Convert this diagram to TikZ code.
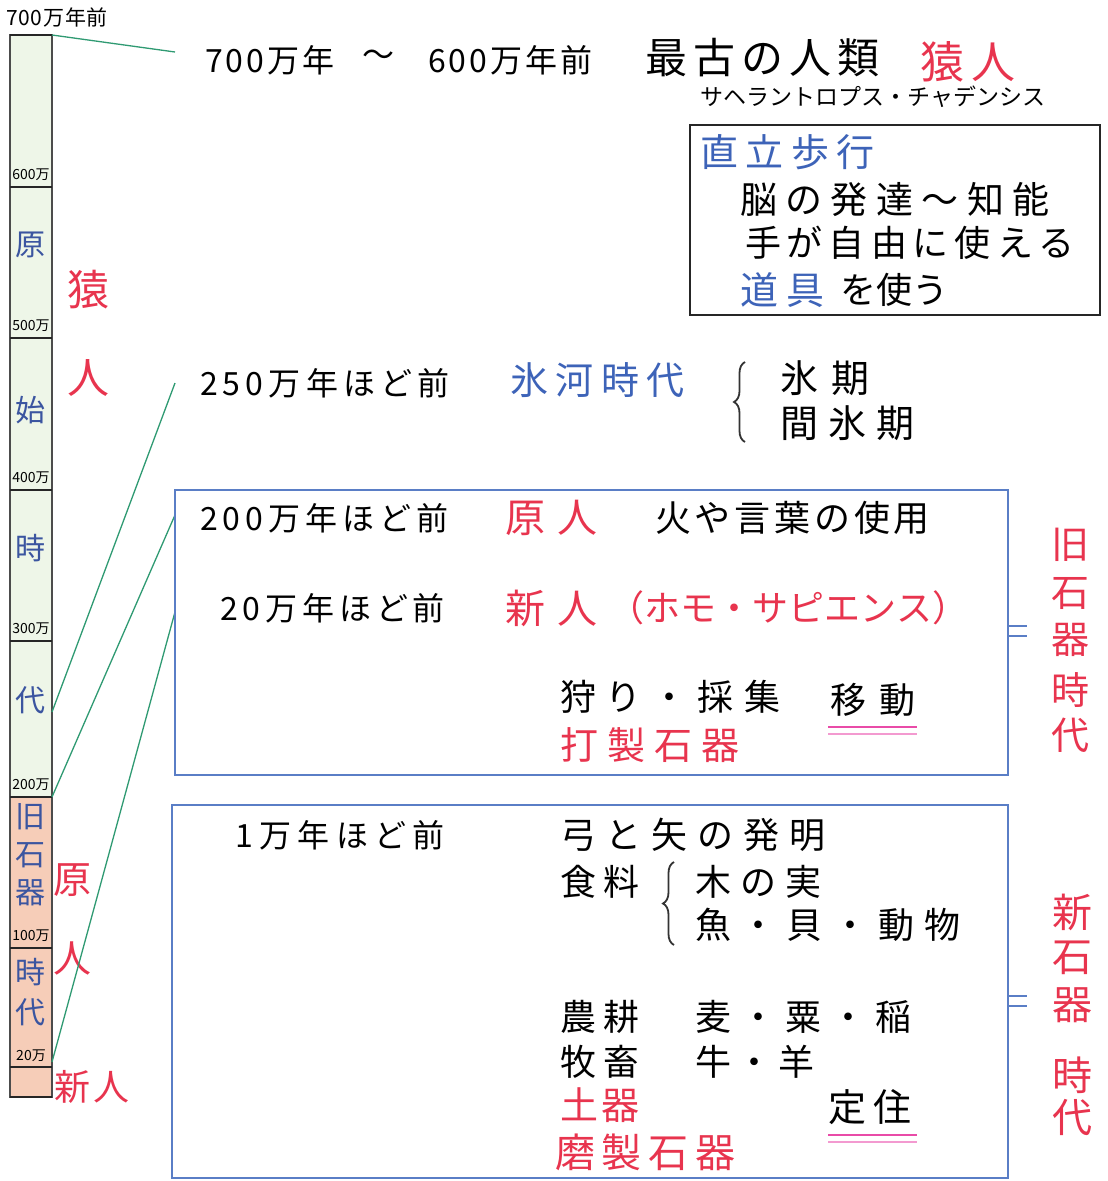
\documentclass[tikz,border=0pt]{standalone}
\usepackage{fontspec}
\setmainfont{Noto Sans CJK JP}
\usetikzlibrary{decorations.pathreplacing}
\definecolor{nred}{HTML}{E8344E}
\definecolor{nblue}{HTML}{3D63B8}
\definecolor{navy}{HTML}{3B55A0}
\definecolor{boxblue}{HTML}{5A7EC6}
\definecolor{ngreen}{HTML}{2F9A72}
\definecolor{pinkA}{HTML}{E94BA8}
\definecolor{pinkB}{HTML}{F39AD0}
\definecolor{pgreen}{HTML}{EEF6E8}
\definecolor{peach}{HTML}{F6CDB8}
\newcommand\fsz[1]{\fontsize{#1}{#1}\selectfont}
\makeatletter
\newcommand\spread[2]{\makebox[#1][s]{\spreadloop#2\relax}}
\def\spreadloop#1{\ifx#1\relax\else#1\expandafter\spreadnext\fi}
\def\spreadnext#1{\ifx#1\relax\else\hfill#1\expandafter\spreadnext\fi}
\makeatother
% \tx{style}{name}{x1}{x2}{y}{text}
\newcommand\tx[6]{\node[txt,#1] (#2) at (#3,#5) {\spread{\dimexpr#4pt-#3pt\relax}{#6}};}
\begin{document}
\begin{tikzpicture}[x=1pt,y=-1pt,
  txt/.style={anchor=west,inner sep=0pt,outer sep=0pt},
  tiny/.style={inner sep=0pt,font=\fsz{14}},
  barch/.style={inner sep=0pt,text=navy,font=\fsz{30}},
  vred/.style={inner sep=0pt,text=nred,font=\fsz{38}},
  conn/.style={draw=ngreen,line width=1.3pt},
  bluebox/.style={draw=boxblue,line width=1.8pt},
  blackbox/.style={draw=black!85,line width=2pt},
  tick/.style={draw=black!85,line width=1.4pt},
  brace/.style={draw=black!80,line width=1.8pt,decorate,decoration={brace,amplitude=11pt}},
  uline/.style={line width=2.4pt},
  eqline/.style={draw=boxblue,line width=2pt}
]
\useasboundingbox (0,0) rectangle (1108,1181);
\fill[white] (0,0) rectangle (1108,1181);

% ---------- timeline bar ----------
\fill[pgreen] (10,35) rectangle (52,797);
\fill[peach] (10,797) rectangle (52,1097);
\draw[draw=black!70,line width=1.2pt] (10,35) rectangle (52,1097);
\foreach \yy in {35,187,338,490,641,797,948,1067,1097}{\draw[tick] (10,\yy) -- (52,\yy);}
\tx{font=\fsz{21}}{t700}{6}{108}{17}{700万年前}
\node[tiny] (t600) at (31,175) {600万};
\node[tiny] (t500) at (31,326) {500万};
\node[tiny] (t400) at (31,478) {400万};
\node[tiny] (t300) at (31,629) {300万};
\node[tiny] (t200) at (31,785) {200万};
\node[tiny] (t100) at (31,936) {100万};
\node[tiny] (t20) at (31,1056) {20万};
\node[barch] (b1) at (31,245) {原};
\node[barch] (b2) at (31,410) {始};
\node[barch] (b3) at (31,548) {時};
\node[barch] (b4) at (31,700) {代};
\node[barch] (b5) at (31,817) {旧};
\node[barch] (b6) at (31,855) {石};
\node[barch] (b7) at (31,893) {器};
\node[barch] (b8) at (31,972) {時};
\node[barch] (b9) at (31,1012) {代};
\node[vred,font=\fsz{42}] (r1) at (88,290) {猿};
\node[vred,font=\fsz{42}] (r2) at (88,378) {人};
\node[vred] (r3) at (72,880) {原};
\node[vred] (r4) at (72,958) {人};
\tx{text=nred,font=\fsz{36}}{r5}{54}{130}{1087}{新人}

% ---------- connector anchors ----------
\coordinate (c1a) at (52,35);   \coordinate (c1b) at (175,52);
\coordinate (c2a) at (52,712);  \coordinate (c2b) at (175,383);
\coordinate (c3a) at (52,797);  \coordinate (c3b) at (175,515);
\coordinate (c4a) at (52,1062); \coordinate (c4b) at (175,612);
\draw[conn] (c1a) -- (c1b);
\draw[conn] (c2a) -- (c2b);
\draw[conn] (c3a) -- (c3b);
\draw[conn] (c4a) -- (c4b);

% ---------- top ----------
\tx{font=\fsz{32}}{a1}{205}{335}{60}{700万年}
\node[inner sep=0pt,font=\fsz{32}] (a2) at (378,58) {～};
\tx{font=\fsz{32}}{a3}{428}{592}{60}{600万年前}
\tx{font=\fsz{42}}{a4}{645}{880}{58}{最古の人類}
\tx{text=nred,font=\fsz{44}}{a5}{920}{1015}{62}{猿人}
\tx{font=\fsz{23}}{a6}{700}{1045}{97}{サヘラントロプス・チャデンシス}

% ---------- box 1 ----------
\draw[blackbox] (690,125) rectangle (1100,315);
\tx{text=nblue,font=\fsz{38}}{k1}{700}{875}{152}{直立歩行}
\tx{font=\fsz{37}}{k2}{740}{1050}{200}{脳の発達～知能}
\tx{font=\fsz{36}}{k3}{745}{1075}{243}{手が自由に使える}
\tx{text=nblue,font=\fsz{38}}{k4}{740}{825}{290}{道具}
\tx{font=\fsz{36}}{k5}{840}{945}{290}{を使う}

% ---------- ice age ----------
\tx{font=\fsz{32}}{g1}{200}{450}{383}{250万年ほど前}
\tx{text=nblue,font=\fsz{38}}{g2}{510}{685}{380}{氷河時代}
\draw[brace] (745,442) -- (745,362);
\tx{font=\fsz{38}}{g3}{780}{870}{378}{氷期}
\tx{font=\fsz{38}}{g4}{780}{915}{423}{間氷期}

% ---------- box 2 ----------
\draw[bluebox] (175,490) rectangle (1008,775);
\tx{font=\fsz{32}}{p1}{200}{448}{518}{200万年ほど前}
\tx{text=nred,font=\fsz{40}}{p2}{505}{597}{518}{原人}
\tx{font=\fsz{36}}{p3}{655}{930}{518}{火や言葉の使用}
\tx{font=\fsz{32}}{p4}{220}{445}{608}{20万年ほど前}
\tx{text=nred,font=\fsz{40}}{p5}{505}{597}{608}{新人}
\tx{text=nred,font=\fsz{36}}{p6}{608}{932}{608}{（ホモ・サピエンス）}
\tx{font=\fsz{36}}{p7}{560}{780}{697}{狩り・採集}
\tx{font=\fsz{36}}{p8}{830}{915}{700}{移動}
\draw[uline,draw=pinkA] (828,727) -- (917,727);
\draw[uline,draw=pinkB] (828,734) -- (917,734);
\tx{text=nred,font=\fsz{38}}{p9}{560}{740}{745}{打製石器}
\draw[eqline] (1008,626) -- (1027,626);
\draw[eqline] (1008,636) -- (1027,636);
\node[vred] (v1) at (1070,545) {旧};
\node[vred] (v2) at (1070,593) {石};
\node[vred] (v3) at (1070,640) {器};
\node[vred] (v4) at (1070,690) {時};
\node[vred] (v5) at (1070,735) {代};

% ---------- box 3 ----------
\draw[bluebox] (172,805) rectangle (1008,1178);
\tx{font=\fsz{32}}{n1}{235}{445}{835}{1万年ほど前}
\tx{font=\fsz{36}}{n2}{560}{825}{835}{弓と矢の発明}
\tx{font=\fsz{36}}{n3}{560}{640}{882}{食料}
\draw[brace] (674,945) -- (674,862);
\tx{font=\fsz{36}}{n4}{695}{822}{882}{木の実}
\tx{font=\fsz{36}}{n5}{695}{960}{925}{魚・貝・動物}
\tx{font=\fsz{36}}{n6}{560}{640}{1017}{農耕}
\tx{font=\fsz{36}}{n7}{695}{912}{1017}{麦・粟・稲}
\tx{font=\fsz{36}}{n8}{560}{640}{1062}{牧畜}
\tx{font=\fsz{36}}{n9}{695}{815}{1062}{牛・羊}
\tx{text=nred,font=\fsz{38}}{n10}{560}{640}{1105}{土器}
\tx{font=\fsz{38}}{n11}{828}{912}{1107}{定住}
\draw[uline,draw=pinkA] (828,1135) -- (917,1135);
\draw[uline,draw=pinkB] (828,1142) -- (917,1142);
\tx{text=nred,font=\fsz{40}}{n12}{555}{735}{1152}{磨製石器}
\draw[eqline] (1008,996) -- (1027,996);
\draw[eqline] (1008,1006) -- (1027,1006);
\node[vred,font=\fsz{40}] (w1) at (1072,912) {新};
\node[vred,font=\fsz{40}] (w2) at (1072,958) {石};
\node[vred,font=\fsz{40}] (w3) at (1072,1005) {器};
\node[vred,font=\fsz{40}] (w4) at (1072,1075) {時};
\node[vred,font=\fsz{40}] (w5) at (1072,1118) {代};
\end{tikzpicture}
\end{document}
